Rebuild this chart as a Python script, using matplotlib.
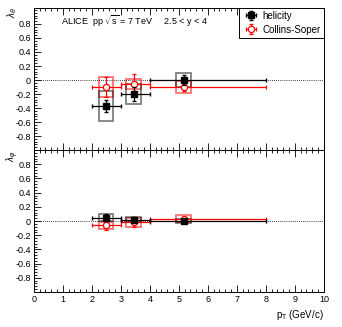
import matplotlib.pyplot as plt
from matplotlib.patches import Rectangle
from matplotlib.ticker import MultipleLocator

plt.rcParams['font.family'] = ['Liberation Sans', 'DejaVu Sans']
plt.rcParams['mathtext.fontset'] = 'custom'
plt.rcParams['mathtext.rm'] = 'Liberation Sans'
plt.rcParams['mathtext.it'] = 'Liberation Sans:italic'

# pT bins and mean pT
pt = [2.48, 3.44, 5.16]
pt_lo = [2.0, 3.0, 4.0]
pt_hi = [3.0, 4.0, 8.0]

# lambda_theta
hel_theta = [-0.37, -0.20, 0.00]
hel_theta_stat = [0.09, 0.10, 0.07]
hel_theta_syst = [0.22, 0.14, 0.10]
cs_theta = [-0.10, -0.06, -0.10]
cs_theta_stat = [0.14, 0.14, 0.06]
cs_theta_syst = [0.14, 0.07, 0.09]

# lambda_phi
hel_phi = [0.05, 0.02, 0.00]
hel_phi_stat = [0.05, 0.04, 0.03]
hel_phi_syst = [0.05, 0.04, 0.03]
cs_phi = [-0.06, -0.02, 0.03]
cs_phi_stat = [0.06, 0.07, 0.03]
cs_phi_syst = [0.05, 0.06, 0.05]

fig = plt.figure(figsize=(3.42, 3.27), dpi=100)
ax1 = fig.add_axes([0.099, 0.541, 0.848, 0.435])
ax2 = fig.add_axes([0.099, 0.107, 0.848, 0.434])

xerr_lo = [p - l for p, l in zip(pt, pt_lo)]
xerr_hi = [h - p for p, h in zip(pt, pt_hi)]
box_w = 0.25


def draw(ax, y_h, st_h, sy_h, y_c, st_c, sy_c, label=False):
    ax.axhline(0, color='black', ls=(0, (1, 1.5)), lw=0.6, zorder=1)
    for x, y, s in zip(pt, y_c, sy_c):
        ax.add_patch(Rectangle((x - box_w, y - s), 2 * box_w, 2 * s, fill=False,
                               edgecolor=(1, 0, 0, 0.55), lw=1.3, zorder=2))
    for x, y, s in zip(pt, y_h, sy_h):
        ax.add_patch(Rectangle((x - box_w, y - s), 2 * box_w, 2 * s, fill=False,
                               edgecolor=(0, 0, 0, 0.5), lw=1.3, zorder=2))
    ax.errorbar(pt, y_c, yerr=st_c, xerr=[xerr_lo, xerr_hi], fmt='o', color='red',
                mfc='white', mec='red', ms=4.5, mew=0.9, lw=0.9, capsize=1.5,
                zorder=3, label='Collins-Soper' if label else None)
    ax.errorbar(pt, y_h, yerr=st_h, xerr=[xerr_lo, xerr_hi], fmt='s', color='black',
                ms=4, lw=0.9, capsize=1.5, zorder=4,
                label='helicity' if label else None)
    ax.set_xlim(0, 10)
    ax.xaxis.set_major_locator(MultipleLocator(1))
    ax.xaxis.set_minor_locator(MultipleLocator(0.2))
    ax.yaxis.set_major_locator(MultipleLocator(0.2))
    ax.yaxis.set_minor_locator(MultipleLocator(0.04))
    ax.tick_params(which='both', direction='in', labelsize=6.5, top=True, right=False,
                   width=0.6, pad=2)
    ax.tick_params(which='major', length=5)
    ax.tick_params(which='minor', length=2.5)
    for sp in ax.spines.values():
        sp.set_linewidth(0.7)


draw(ax1, hel_theta, hel_theta_stat, hel_theta_syst,
     cs_theta, cs_theta_stat, cs_theta_syst, label=True)
draw(ax2, hel_phi, hel_phi_stat, hel_phi_syst,
     cs_phi, cs_phi_stat, cs_phi_syst)

ax1.set_ylim(-1.0, 1.03)
ax2.set_ylim(-1.0, 1.0)
yt = [-0.8, -0.6, -0.4, -0.2, 0, 0.2, 0.4, 0.6, 0.8]
ytl = ['-0.8', '-0.6', '-0.4', '-0.2', '0', '0.2', '0.4', '0.6', '0.8']
for ax in (ax1, ax2):
    ax.set_yticks(yt)
    ax.set_yticklabels(ytl)
ax1.tick_params(labelbottom=False)

# axis titles, ROOT style (top-aligned next to the axis)
fig.text(0.036, 0.978, r'$\lambda_\theta$', rotation=90, fontsize=7, ha='center', va='top')
fig.text(0.036, 0.540, r'$\lambda_\varphi$', rotation=90, fontsize=7, ha='center', va='top')
ax2.set_xlabel(r'p$_{\mathrm{T}}$ (GeV/c)', loc='right', fontsize=7, labelpad=3)

ax1.text(0.095, 0.905, r'ALICE  pp $\sqrt{\mathrm{s}}$ = 7 TeV     2.5 < y < 4',
         transform=ax1.transAxes, fontsize=6.5, va='center', ha='left')

handles, labels = ax1.get_legend_handles_labels()
leg = ax1.legend(handles[::-1], labels[::-1], loc='upper right', bbox_to_anchor=(1, 1),
                 borderaxespad=0, fancybox=False, fontsize=7, handlelength=1.8,
                 handletextpad=0.3, borderpad=0.3, labelspacing=0.4, framealpha=1)
leg.get_frame().set_edgecolor('black')
leg.get_frame().set_linewidth(0.7)

fig.savefig('out.png', dpi=100)
